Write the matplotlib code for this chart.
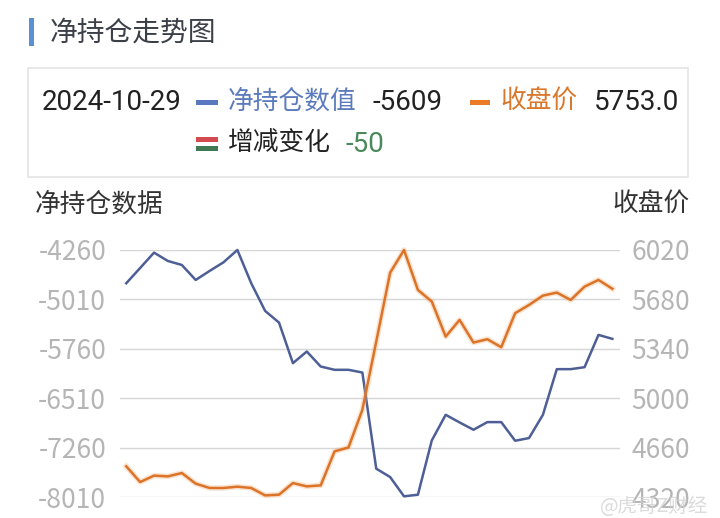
import matplotlib
matplotlib.use("Agg")
import matplotlib.pyplot as plt
from matplotlib.patches import Rectangle
import numpy as np

plt.rcParams['font.family'] = ['Noto Sans CJK SC', 'DejaVu Sans']

# net position (left axis) and close price (right axis), 36 trading days
net_position = [-4765, -4533, -4300, -4427, -4487, -4715, -4578, -4447, -4260,
                -4765, -5185, -5362, -5978, -5801, -6029, -6079, -6079, -6120,
                -7580, -7707, -8000, -7975, -7151, -6762, -6878, -6989, -6873,
                -6873, -7156, -7115, -6762, -6069, -6069, -6039, -5549, -5609]
close_price = [4531, 4423, 4467, 4462, 4485, 4412, 4382, 4382, 4391, 4382,
               4331, 4336, 4416, 4393, 4400, 4634, 4661, 4920, 5390, 5864,
               6020, 5745, 5665, 5424, 5539, 5383, 5406, 5351, 5585, 5642,
               5706, 5727, 5676, 5768, 5814, 5753]

left_ticks = [-4260, -5010, -5760, -6510, -7260, -8010]
left_labels = ['-4260', '-5010', '-5760', '-6510', '-7260', '-8010']
right_ticks = [6020, 5680, 5340, 5000, 4660, 4320]
right_labels = ['6020', '5680', '5340', '5000', '4660', '4320']

W, H = 720, 518


def px(x, y):
    # pixel (from top-left) -> figure fraction
    return x / W, 1 - y / H


fig = plt.figure(figsize=(W / 100, H / 100), dpi=100)
fig.patch.set_facecolor('white')

# title with blue bar
fig.patches.append(Rectangle(px(29, 46), 5 / W, 28 / H, transform=fig.transFigure,
                             color='#5b8fd6', lw=0))
fig.text(*px(50, 33), '净持仓走势图', fontsize=20, color='#3b3f48', va='center', ha='left')

# legend box
fig.patches.append(Rectangle(px(28, 177), 660 / W, 109 / H, transform=fig.transFigure,
                             facecolor='white', edgecolor='#e4e4e4', lw=1.2))
r1, r2 = 102, 144
num_font = ['Roboto', 'DejaVu Sans']
fig.text(*px(42, r1), '2024-10-29', fontsize=20, color='#222222', va='center',
         family=num_font)
fig.patches.append(Rectangle(px(196, r1 + 2.5), 22 / W, 5 / H, transform=fig.transFigure,
                             color='#5a78c0', lw=0))
fig.text(*px(228, r1), '净持仓数值', fontsize=18.5, color='#5b7bbd', va='center')
fig.text(*px(372, r1), '-5609', fontsize=20, color='#222222', va='center', family=num_font)
fig.patches.append(Rectangle(px(470, r1 + 2.5), 20 / W, 5 / H, transform=fig.transFigure,
                             color='#e87a2a', lw=0))
fig.text(*px(500, r1), '收盘价', fontsize=18.5, color='#d9782c', va='center')
fig.text(*px(594, r1), '5753.0', fontsize=20, color='#222222', va='center', family=num_font)
fig.patches.append(Rectangle(px(196, 142), 22 / W, 5 / H, transform=fig.transFigure,
                             color='#d34a4f', lw=0))
fig.patches.append(Rectangle(px(196, 151), 22 / W, 5 / H, transform=fig.transFigure,
                             color='#3f7a55', lw=0))
fig.text(*px(228, r2), '增减变化', fontsize=18.5, color='#222222', va='center')
fig.text(*px(345, r2), '-50', fontsize=20, color='#4a8a5a', va='center', family=num_font)

# axis titles
fig.text(*px(35, 205), '净持仓数据', fontsize=18.5, color='#333333', va='center', ha='left')
fig.text(*px(690, 205), '收盘价', fontsize=18.5, color='#333333', va='center', ha='right')

# main axes
x0, y0 = px(120, 497)
ax = fig.add_axes([x0, y0, 500 / W, (497 - 250) / H])
ax2 = ax.twinx()
x = np.arange(len(net_position))

for a in (ax, ax2):
    for s in a.spines.values():
        s.set_visible(False)
    a.tick_params(length=0, labelsize=19, labelcolor='#b5b5b5')

ax.set_xlim(-0.45, len(x) - 1 + 0.55)
ax.set_ylim(left_ticks[-1], left_ticks[0])
ax.set_yticks(left_ticks)
ax.set_yticklabels(left_labels)
ax.tick_params(axis='y', pad=10)
ax.set_xticks([])
ax.grid(axis='y', color='#d6d6d6', lw=1)
ax.set_axisbelow(True)

ax2.set_ylim(right_ticks[-1], right_ticks[0])
ax2.set_yticks(right_ticks)
ax2.set_yticklabels(right_labels)
ax2.tick_params(axis='y', pad=8)

ax.plot(x, net_position, color='#4d5f96', lw=1.8, clip_on=False)
ax2.plot(x, close_price, color='#f3b27a', lw=4, alpha=0.35, clip_on=False)
ax2.plot(x, close_price, color='#dc7328', lw=1.8, clip_on=False)

# watermark
fig.text(*px(708, 506), '@虎哥Z财经', fontsize=14, color='#d2d2d2', alpha=0.8,
         va='center', ha='right')

fig.savefig('out.png', dpi=100)
